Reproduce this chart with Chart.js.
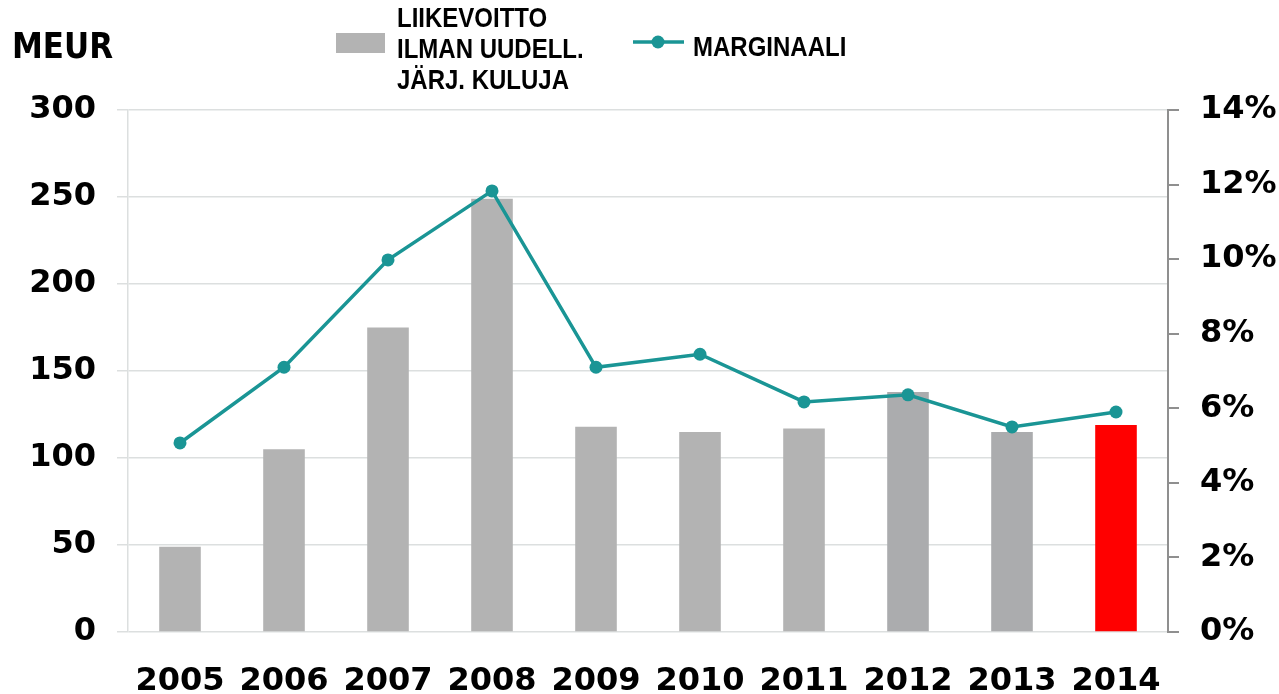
<!DOCTYPE html>
<html>
<head>
<meta charset="utf-8">
<script src="https://cdn.jsdelivr.net/npm/chart.js@4/dist/chart.umd.min.js"></script>
<style>
  html, body { margin: 0; padding: 0; background: #fff; }
  #wrap { width: 1279px; height: 694px; position: relative; }
</style>
</head>
<body>
<div id="wrap"><canvas id="myChart"></canvas></div>
<script>
//chart data
const years = ["2005", "2006", "2007", "2008", "2009", "2010", "2011", "2012", "2013", "2014"];
const operatingProfit = [49, 105, 175, 249, 118, 115, 117, 138, 115, 119]; // MEUR
const margin = [5.07, 7.1, 9.98, 11.83, 7.1, 7.45, 6.17, 6.36, 5.5, 5.9]; // %
const leftTicks = [0, 50, 100, 150, 200, 250, 300];
const rightTicks = [0, 2, 4, 6, 8, 10, 12, 14];

//labels
const unitLabel = "MEUR";
const barLabel = ["LIIKEVOITTO", "ILMAN UUDELL.", "JÄRJ. KULUJA"];
const lineLabel = "MARGINAALI";

//colours
const GRAY = "#b3b3b3";
const GRAY_DARK = "#abacae";
const RED = "#ff0000";
const TEAL = "#1a9595";
const GRID = "#dcdfdf";
const AXIS = "#8f8f8f";

const tickFont = { family: "'DejaVu Sans'", size: 32, weight: "bold" };

const barColor = (ctx) => {
    const y = years[ctx.dataIndex];
    if (y === "2014") return RED;
    if (y === "2012" || y === "2013") return GRAY_DARK;
    return GRAY;
};

// slightly taller text, like the condensed legend font of the original
const tallText = (c, t, x, y) => {
    c.save();
    c.translate(x, y);
    c.scale(1, 1.12);
    c.fillText(t, 0, 0);
    c.restore();
};

// legend + unit label drawn on canvas
const legendPlugin = {
    id: "customLegend",
    afterDraw(chart) {
        const c = chart.ctx;
        c.save();
        c.fillStyle = "#000";
        c.textBaseline = "alphabetic";
        c.font = "bold 31px 'DejaVu Sans'";
        tallText(c, unitLabel, 12, 58);

        c.fillStyle = GRAY;
        c.fillRect(336, 33, 49, 20);
        c.fillStyle = "#000";
        c.font = "bold 24px 'Liberation Sans'";
        barLabel.forEach((t, i) => tallText(c, t, 397, 27 + i * 31));

        c.strokeStyle = TEAL;
        c.lineWidth = 3.5;
        c.beginPath();
        c.moveTo(633, 42);
        c.lineTo(684, 42);
        c.stroke();
        c.fillStyle = TEAL;
        c.beginPath();
        c.arc(658, 42, 6.5, 0, Math.PI * 2);
        c.fill();
        c.fillStyle = "#000";
        tallText(c, lineLabel, 693, 56);
        c.restore();
    }
};

const ctx = document.getElementById("myChart");
const myChart = new Chart(ctx, {
    type: "bar",
    data: {
        labels: years,
        datasets: [{
            type: "line",
            label: lineLabel,
            data: margin,
            yAxisID: "y2",
            borderColor: TEAL,
            backgroundColor: TEAL,
            borderWidth: 3.5,
            pointRadius: 6.5,
            pointBorderWidth: 0,
            pointBackgroundColor: TEAL,
            tension: 0,
            order: 0
        }, {
            label: barLabel.join(" "),
            data: operatingProfit,
            yAxisID: "y",
            backgroundColor: barColor,
            barPercentage: 0.4,
            categoryPercentage: 1,
            order: 1
        }]
    },
    options: {
        responsive: true,
        maintainAspectRatio: false,
        animation: false,
        layout: { padding: { top: 110, left: 0, right: 0, bottom: 0 } },
        plugins: { legend: { display: false }, tooltip: { enabled: false } },
        scales: {
            x: {
                grid: { display: false },
                border: { display: false },
                ticks: { color: "#000", font: tickFont, padding: 22, maxRotation: 0 },
                afterFit: (s) => { s.height = 62; }
            },
            y: {
                position: "left",
                min: 0,
                max: 300,
                afterBuildTicks: (s) => { s.ticks = leftTicks.map(v => ({ value: v })); },
                grid: { color: GRID, lineWidth: 1.5, tickLength: 11 },
                border: { color: GRID, width: 1.5 },
                ticks: { color: "#000", font: tickFont, padding: 21 },
                afterFit: (s) => { s.width = 128; }
            },
            y2: {
                position: "right",
                min: 0,
                max: 14,
                afterBuildTicks: (s) => { s.ticks = rightTicks.map(v => ({ value: v })); },
                grid: { drawOnChartArea: false, color: AXIS, lineWidth: 2, tickLength: 11 },
                border: { color: AXIS, width: 2 },
                ticks: { color: "#000", font: tickFont, padding: 21, callback: (v) => v + "%" },
                afterFit: (s) => { s.width = 111; }
            }
        }
    },
    plugins: [legendPlugin]
});
</script>
</body>
</html>
